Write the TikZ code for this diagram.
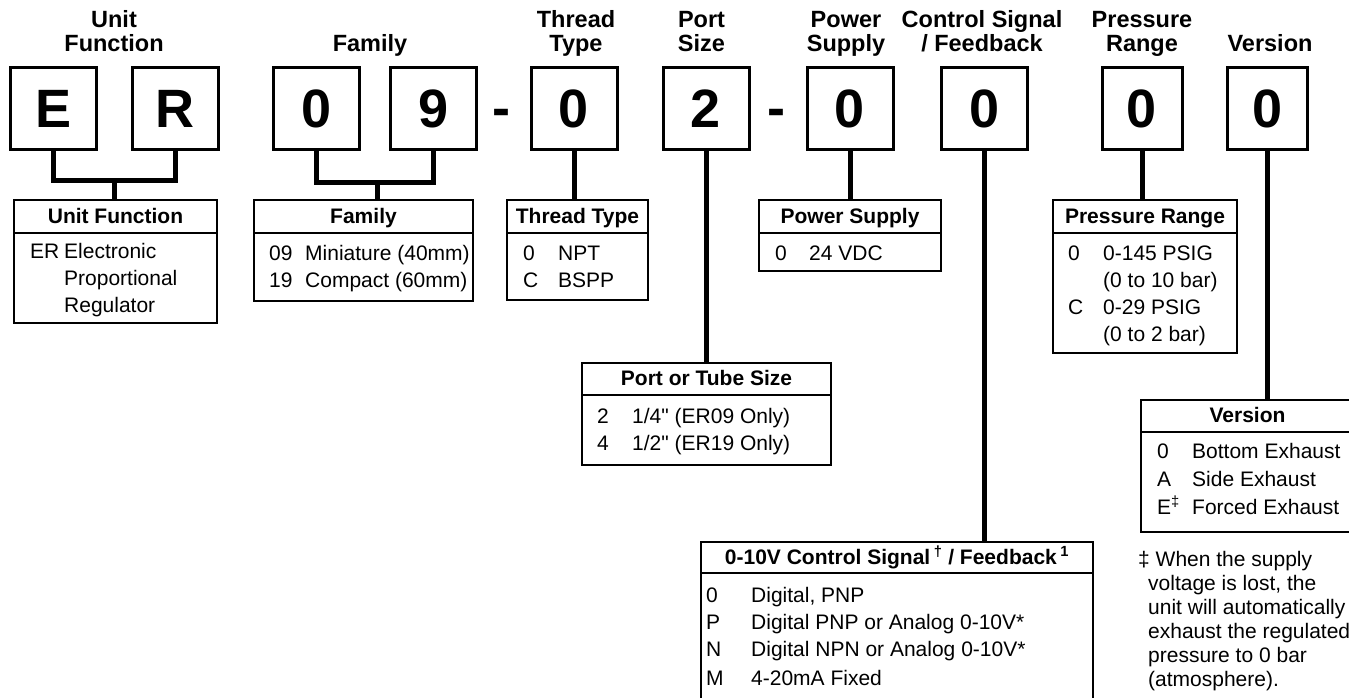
\documentclass[tikz,border=0pt]{standalone}
\usepackage{fontspec}
\setmainfont{Liberation Sans}
\newfontfamily\plainsans{Liberation Sans}
\usetikzlibrary{positioning}

\newcommand{\inchmark}{{\plainsans\char34}}

\tikzset{
  codebox/.style={draw, line width=3pt, minimum width=86pt, minimum height=82pt,
    inner sep=0pt, font=\fontsize{54}{54}\selectfont\bfseries},
  codedash/.style={anchor=base, inner sep=0pt, font=\fontsize{54}{54}\selectfont\bfseries},
  codetitle/.style={anchor=base, align=center, inner sep=0pt,
    font=\fontsize{23.5}{24.5}\selectfont\bfseries},
  stem/.style={line width=5pt},
  tablehead/.style={draw, line width=2.5pt, minimum height=33pt, inner sep=0pt,
    outer sep=0pt, anchor=north, text height=16.5pt, text depth=3pt,
    font=\fontsize{21}{21}\selectfont\bfseries},
  tablebody/.style={draw, line width=2.5pt, inner sep=0pt, outer sep=0pt, anchor=north},
  tabletext/.style={anchor=base west, inner sep=0pt, font=\fontsize{21}{27}\selectfont},
}

\begin{document}
\begin{tikzpicture}[x=1pt,y=-1pt]
  \useasboundingbox (0,0) rectangle (1349,698);

  % code characters
  \node[codebox] (uf-e) at (53.5,109) {E};
  \node[codebox] (uf-r) at (175,109) {R};
  \node[codebox] (fam-0) at (316.5,109) {0};
  \node[codebox] (fam-9) at (433.5,109) {9};
  \node[codedash] (dash-a) at (501.5,127) {-};
  \node[codebox] (tt-box) at (574,109) {0};
  \node[codebox] (ps-box) at (706,109) {2};
  \node[codedash] (dash-b) at (776,127) {-};
  \node[codebox] (pw-box) at (850,109) {0};
  \node[codebox] (cs-box) at (984.5,109) {0};
  \node[codebox, minimum width=80pt] (pr-box) at (1142,109) {0};
  \node[codebox, minimum width=80pt] (vr-box) at (1267,109) {0};

  % titles
  \node[codetitle] (uf-title) at (114,52) {Unit\\Function};
  \node[codetitle] (fam-title) at (370,52) {Family};
  \node[codetitle] (tt-title) at (576,52) {Thread\\Type};
  \node[codetitle] (ps-title) at (701.5,52) {Port\\Size};
  \node[codetitle] (pw-title) at (846,52) {Power\\Supply};
  \node[codetitle] (cs-title) at (982,52) {Control Signal\\/ Feedback};
  \node[codetitle] (pr-title) at (1142,52) {Pressure\\Range};
  \node[codetitle] (vr-title) at (1270,52) {Version};

  % tables
  \node[tablehead, minimum width=203pt] (uf-head) at (115.5,200) {Unit Function};
  \node[tablebody, minimum width=203pt, minimum height=90pt, below=0pt of uf-head] (uf-body) {};
  \node[tabletext] (uf-rows) at (30,258) {\begin{tabular}[t]{@{}p{34pt}@{}l@{}}
    ER & Electronic\\ & Proportional\\ & Regulator\end{tabular}};

  \node[tablehead, minimum width=219pt] (fam-head) at (363.5,200) {Family};
  \node[tablebody, minimum width=219pt, minimum height=68pt, below=0pt of fam-head] (fam-body) {};
  \node[tabletext] (fam-rows) at (269,260) {\begin{tabular}[t]{@{}p{36pt}@{}l@{}}
    09 & Miniature (40mm)\\ 19 & Compact (60mm)\end{tabular}};

  \node[tablehead, minimum width=141pt] (tt-head) at (577.5,200) {Thread Type};
  \node[tablebody, minimum width=141pt, minimum height=67pt, below=0pt of tt-head] (tt-body) {};
  \node[tabletext] (tt-rows) at (523,260) {\begin{tabular}[t]{@{}p{35pt}@{}l@{}}
    0 & NPT\\ C & BSPP\end{tabular}};

  \node[tablehead, minimum width=182pt] (pw-head) at (850,200) {Power Supply};
  \node[tablebody, minimum width=182pt, minimum height=38pt, below=0pt of pw-head] (pw-body) {};
  \node[tabletext] (pw-rows) at (775,260) {\begin{tabular}[t]{@{}p{34pt}@{}l@{}}
    0 & 24 VDC\end{tabular}};

  \node[tablehead, minimum width=184pt] (pr-head) at (1145,200) {Pressure Range};
  \node[tablebody, minimum width=184pt, minimum height=120pt, below=0pt of pr-head] (pr-body) {};
  \node[tabletext] (pr-rows) at (1068,260) {\begin{tabular}[t]{@{}p{35pt}@{}l@{}}
    0 & 0-145 PSIG\\ & (0 to 10 bar)\\ C & 0-29 PSIG\\ & (0 to 2 bar)\end{tabular}};

  \node[tablehead, minimum width=249pt, minimum height=32pt] (ps-head) at (706.5,363) {Port or Tube Size};
  \node[tablebody, minimum width=249pt, minimum height=70pt, below=0pt of ps-head] (ps-body) {};
  \node[tabletext] (ps-rows) at (597,423) {\begin{tabular}[t]{@{}p{35pt}@{}l@{}}
    2 & 1/4\inchmark\ (ER09 Only)\\ 4 & 1/2\inchmark\ (ER19 Only)\end{tabular}};

  \node[tablehead, minimum width=392pt, minimum height=31pt] (cs-head) at (897,542)
    {0-10V Control Signal\,\textsuperscript{†} / Feedback\,\textsuperscript{1}};
  \node[tablebody, minimum width=392pt, minimum height=160pt, below=0pt of cs-head] (cs-body) {};
  \node[tabletext] (cs-rows) at (706,602) {\begin{tabular}[t]{@{}p{45pt}@{}l@{}}
    0 & Digital, PNP\\ P & Digital PNP or Analog 0-10V*\\
    N & Digital NPN or Analog 0-10V*\\[2pt] M & 4-20mA Fixed\end{tabular}};

  \node[tablehead, minimum width=213pt, minimum height=32pt] (vr-head) at (1247.5,400) {Version};
  \node[tablebody, minimum width=213pt, minimum height=100pt, below=0pt of vr-head] (vr-body) {};
  \node[tabletext] (vr-rows) at (1157,458) {\begin{tabular}[t]{@{}p{35pt}@{}l@{}}
    0 & Bottom Exhaust\\[1pt] A & Side Exhaust\\[1pt] E\textsuperscript{‡} & Forced Exhaust\end{tabular}};

  \node[tabletext, font=\fontsize{21}{24}\selectfont] (vr-note) at (1138,566)
    {\begin{tabular}[t]{@{}l@{}}‡ When the supply\\
    \hspace*{10pt}voltage is lost, the\\ \hspace*{10pt}unit will automatically\\
    \hspace*{10pt}exhaust the regulated\\ \hspace*{10pt}pressure to 0 bar\\
    \hspace*{10pt}(atmosphere).\end{tabular}};

  % connectors
  \coordinate (uf-join) at (114,180);
  \coordinate (fam-join) at (377,182);
  \draw[stem] (uf-e.south) |- (uf-join) -| (uf-r.south);
  \draw[stem] (uf-join) -- (uf-join |- uf-head.north);
  \draw[stem] (fam-0.south) |- (fam-join) -| (fam-9.south);
  \draw[stem] (fam-join) -- (fam-join |- fam-head.north);
  \draw[stem] (tt-box.south) -- (tt-box.south |- tt-head.north);
  \draw[stem] (ps-box.south) -- (ps-box.south |- ps-head.north);
  \draw[stem] (pw-box.south) -- (pw-box.south |- pw-head.north);
  \draw[stem] (cs-box.south) -- (cs-box.south |- cs-head.north);
  \draw[stem] (pr-box.south) -- (pr-box.south |- pr-head.north);
  \draw[stem] (vr-box.south) -- (vr-box.south |- vr-head.north);
\end{tikzpicture}
\end{document}
